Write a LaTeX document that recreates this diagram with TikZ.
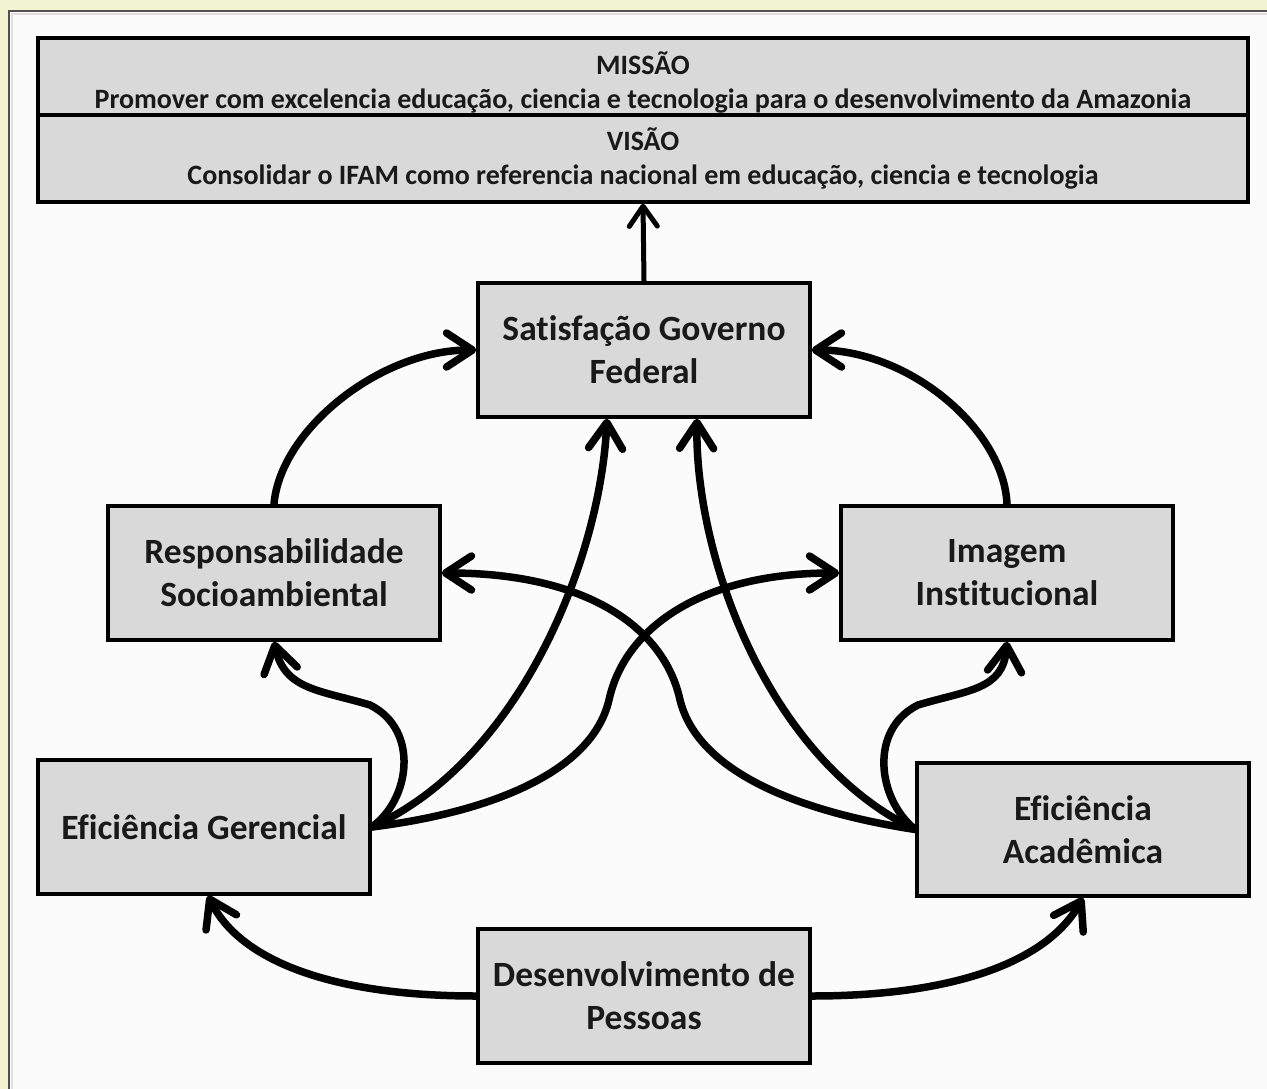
\documentclass[tikz,border=0pt]{standalone}
\usepackage{fontspec}
\setmainfont{Carlito}[Ligatures=CommonOff]
\usetikzlibrary{arrows.meta}
\definecolor{cream}{RGB}{243,245,210}
\definecolor{panel}{RGB}{251,251,251}
\definecolor{boxfill}{RGB}{217,217,217}
\definecolor{frameline}{RGB}{80,80,80}
\begin{document}
\begin{tikzpicture}[x=1pt,y=-1pt,
  box/.style={draw=black, line width=3.5pt, fill=boxfill, minimum width=332pt, minimum height=134pt,
    inner sep=0pt, align=center, text=black!90, font=\fontsize{35.5}{43}\selectfont\bfseries},
  topbox/.style={draw=black, line width=3.5pt, fill=boxfill, minimum width=1210pt, inner sep=0pt,
    align=center, text=black!90, font=\fontsize{28}{34}\selectfont\bfseries},
  link/.style={line width=7.5pt, line cap=round, -{Straight Barb[length=26pt,width=34pt,round]}},
  uplink/.style={line width=5pt, -{Straight Barb[length=20pt,width=28pt,round]}},
]
\useasboundingbox (0,0) rectangle (1267,1089);
\fill[cream] (0,0) rectangle (1267,1089);
\fill[panel] (8,10) rectangle (1267,1089);
\draw[frameline, line width=2pt] (9,1089) -- (9,11) -- (1267,11);
\draw[black!12, line width=1.5pt] (12,1089) -- (12,14) -- (1267,14);

% nodes
\node[topbox, minimum height=77pt] (missao) at (643,76.5) {};
\node[font=\fontsize{28}{34}\selectfont\bfseries, align=center, text=black!90] (missaotxt) at (643,82)
  {MISSÃO\\Promover com excelencia educação, ciencia e tecnologia para o desenvolvimento da Amazonia};
\node[topbox, minimum height=87pt] (visao) at (643,158.5)
  {VISÃO\\Consolidar o IFAM como referencia nacional em educação, ciencia e tecnologia};
\node[box] (sat) at (644,350) {Satisfação Governo\\Federal};
\node[box] (resp) at (274,573) {Responsabilidade\\Socioambiental};
\node[box] (imag) at (1007,573) {Imagem\\Institucional};
\node[box] (gerenc) at (204,827) {Eficiência Gerencial};
\node[box, minimum height=133pt] (acad) at (1083,829.5) {Eficiência\\Acadêmica};
\node[box] (desenv) at (644,996) {Desenvolvimento de\\Pessoas};

% connectors
\draw[uplink] (sat.north) -- (visao.south);

\draw[link] (resp.north) .. controls (280,430) and (380,350) .. (sat.west);
\draw[link] (imag.north) .. controls (1004,430) and (910,350) .. (sat.east);

\draw[link] (gerenc.east) .. controls (410,800) and (420,730) .. (370,705)
  .. controls (320,690) and (285,690) .. (resp.south);
\draw[link] (gerenc.east) .. controls (520,760) and (600,560) .. ([xshift=-37pt]sat.south);
\draw[link] (gerenc.east) .. controls (470,815) and (590,780) .. (609,700)
  .. controls (624,630) and (699,573) .. (imag.west);

\draw[link] (acad.west) .. controls (878,800) and (868,730) .. (918,705)
  .. controls (968,690) and (1003,690) .. (imag.south);
\draw[link] (acad.west) .. controls (770,760) and (695,560) .. ([xshift=53pt]sat.south);
\draw[link] (acad.west) .. controls (820,815) and (700,780) .. (680,700)
  .. controls (665,630) and (590,573) .. (resp.east);

\draw[link] (desenv.west) .. controls (330,996) and (240,960) .. ([xshift=4pt]gerenc.south);
\draw[link] (desenv.east) .. controls (958,996) and (1048,960) .. (acad.south);
\end{tikzpicture}
\end{document}
